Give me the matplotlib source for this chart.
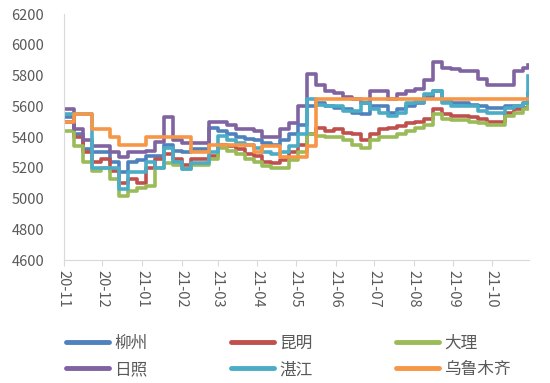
import matplotlib
matplotlib.use("Agg")
import matplotlib.pyplot as plt
import matplotlib.dates as mdates
import pandas as pd

plt.rcParams["font.family"] = ["Noto Sans CJK SC", "DejaVu Sans"]

# weekly sampling, Mondays from 2020-11-02 plus the last day shown
dates = list(pd.date_range("2020-11-02", periods=52, freq="7D")) + [pd.Timestamp("2021-10-29")]

liuzhou = [5530, 5420, 5320, 5300, 5300, 5240, 5170, 5240, 5250, 5280, 5280, 5350, 5310,
           5300, 5320, 5320, 5460, 5440, 5420, 5400, 5390, 5380, 5360, 5350, 5380, 5420,
           5480, 5600, 5620, 5600, 5590, 5580, 5560, 5550, 5600, 5600, 5560, 5580, 5600,
           5620, 5660, 5700, 5640, 5620, 5620, 5610, 5600, 5590, 5590, 5600, 5600, 5620, 5680]
kunming = [5500, 5400, 5300, 5240, 5260, 5180, 5100, 5130, 5100, 5200, 5260, 5290, 5260,
           5220, 5260, 5260, 5280, 5350, 5340, 5320, 5290, 5280, 5240, 5230, 5250, 5300,
           5350, 5420, 5460, 5440, 5450, 5430, 5420, 5380, 5420, 5450, 5460, 5470, 5490,
           5500, 5520, 5580, 5550, 5540, 5540, 5530, 5520, 5500, 5500, 5560, 5580, 5590, 5640]
dali = [5440, 5340, 5240, 5180, 5200, 5130, 5020, 5050, 5070, 5080, 5200, 5230, 5220,
        5190, 5220, 5220, 5260, 5330, 5310, 5290, 5260, 5240, 5210, 5200, 5200, 5250,
        5300, 5420, 5410, 5400, 5400, 5380, 5350, 5330, 5380, 5400, 5400, 5420, 5440,
        5460, 5480, 5550, 5520, 5510, 5510, 5500, 5490, 5480, 5480, 5540, 5560, 5580, 5620]
rizhao = [5580, 5450, 5380, 5340, 5340, 5300, 5270, 5300, 5300, 5310, 5370, 5530, 5380,
          5360, 5360, 5360, 5500, 5500, 5480, 5450, 5450, 5440, 5400, 5400, 5450, 5490,
          5600, 5810, 5740, 5700, 5690, 5660, 5650, 5620, 5700, 5700, 5650, 5680, 5700,
          5710, 5770, 5890, 5850, 5840, 5830, 5830, 5780, 5740, 5740, 5740, 5830, 5850, 5870]
zhanjiang = [5550, 5550, 5550, 5200, 5200, 5200, 5060, 5170, 5170, 5240, 5200, 5330, 5240,
             5190, 5230, 5230, 5300, 5410, 5380, 5360, 5350, 5330, 5300, 5290, 5300, 5340,
             5420, 5650, 5610, 5600, 5600, 5570, 5570, 5620, 5580, 5560, 5540, 5560, 5620,
             5630, 5680, 5700, 5620, 5600, 5600, 5600, 5570, 5560, 5560, 5590, 5600, 5620, 5800]
urumqi = [5500, 5550, 5550, 5450, 5450, 5400, 5350, 5350, 5350, 5400, 5400, 5400, 5400,
          5400, 5300, 5300, 5350, 5350, 5350, 5350, 5350, 5300, 5340, 5340, 5270, 5270,
          5270, 5340, 5650, 5650, 5650, 5650, 5650, 5650, 5650, 5650, 5650, 5650, 5650,
          5650, 5650, 5650, 5650, 5650, 5650, 5650, 5650, 5650, 5650, 5650, 5650, 5650, 5650]

series = [
    ("柳州", liuzhou, "#4F81BD"),
    ("昆明", kunming, "#C0504D"),
    ("大理", dali, "#9BBB59"),
    ("日照", rizhao, "#8064A2"),
    ("湛江", zhanjiang, "#4BACC6"),
    ("乌鲁木齐", urumqi, "#F79646"),
]

fig = plt.figure(figsize=(5.5, 3.83), dpi=100)
ax = fig.add_axes([0.116, 0.321, 0.846, 0.642])

handles = {}
for name, vals, color in series:
    line, = ax.plot(dates, vals, color=color, lw=2.6, drawstyle="steps-post",
                    solid_joinstyle="round")
    handles[name] = line

ax.set_ylim(4600, 6200)
ax.set_yticks(range(4600, 6201, 200))
ax.set_xlim(pd.Timestamp("2020-11-01"), pd.Timestamp("2021-10-30"))
ax.xaxis.set_major_locator(mdates.MonthLocator())
ax.xaxis.set_major_formatter(mdates.DateFormatter("%y-%m"))

for side in ["top", "right"]:
    ax.spines[side].set_visible(False)
for side in ["left", "bottom"]:
    ax.spines[side].set_color("#d9d9d9")
ax.tick_params(axis="y", length=0, labelsize=10.5, colors="#595959", pad=14)
ax.tick_params(axis="x", length=4, color="#d9d9d9", labelsize=10.5,
               labelcolor="#595959", labelrotation=-90, pad=3)

# legend filled column-wise, so order handles to read row-wise like the original
order = ["柳州", "日照", "昆明", "湛江", "大理", "乌鲁木齐"]
leg = fig.legend([handles[n] for n in order], order, ncol=3, loc="upper left",
                 bbox_to_anchor=(0.108, 0.143), frameon=False, fontsize=12,
                 handlelength=2.6, handletextpad=0.3, columnspacing=5.0,
                 labelspacing=0.55, borderaxespad=0)
for t in leg.get_texts():
    t.set_color("#595959")
for h in leg.get_lines():
    h.set_linewidth(3.5)
    h.set_solid_capstyle("round")

fig.savefig("out.png", dpi=100)
